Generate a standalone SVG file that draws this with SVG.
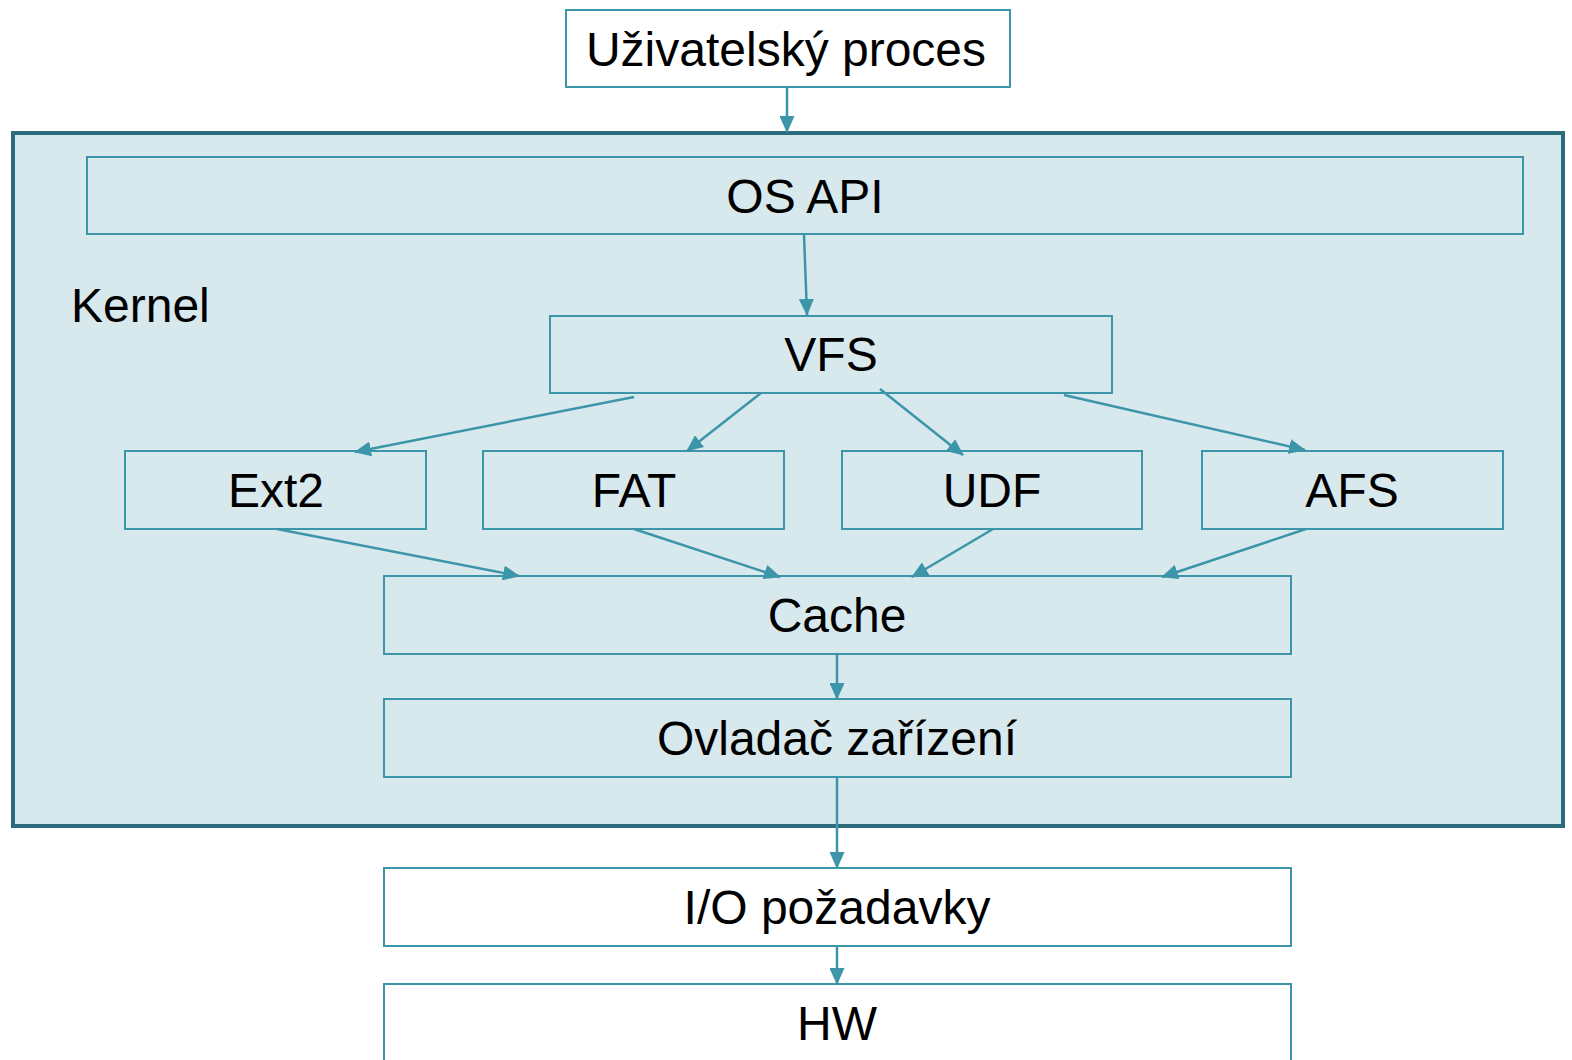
<svg xmlns="http://www.w3.org/2000/svg" width="1572" height="1060" viewBox="0 0 1572 1060">
<style>
.node{fill:#D8E9ED;stroke:#3C95A9;stroke-width:2}
.white{fill:#FFFFFF}
.lbl{font-family:"Liberation Sans",Arial,sans-serif;font-size:48px;fill:#000;text-anchor:middle}
.conn{stroke:#3C95A9;stroke-width:2.5;fill:none;marker-end:url(#arr)}
</style>
<defs>
<marker id="arr" markerUnits="userSpaceOnUse" markerWidth="17" markerHeight="15" refX="16" refY="7.5" orient="auto">
<path d="M0,0 L17,7.5 L0,15 Z" fill="#3C95A9"/>
</marker>
</defs>
<rect width="1572" height="1060" fill="#FFFFFF"/>
<g id="kernel">
<rect x="13" y="133" width="1550" height="693" fill="#D8E9ED" stroke="#2B6B7B" stroke-width="4"/>
<text x="71" y="322" class="lbl" style="text-anchor:start">Kernel</text>
</g>
<g id="user">
<rect x="566" y="10" width="444" height="77" class="node white"/>
<text x="786" y="66" class="lbl">Uživatelský proces</text>
</g>
<g id="osapi">
<rect x="87" y="157" width="1436" height="77" class="node"/>
<text x="805" y="213" class="lbl">OS API</text>
</g>
<g id="vfs">
<rect x="550" y="316" width="562" height="77" class="node"/>
<text x="831" y="371" class="lbl">VFS</text>
</g>
<g id="ext2">
<rect x="125" y="451" width="301" height="78" class="node"/>
<text x="276" y="507" class="lbl">Ext2</text>
</g>
<g id="fat">
<rect x="483" y="451" width="301" height="78" class="node"/>
<text x="634" y="507" class="lbl">FAT</text>
</g>
<g id="udf">
<rect x="842" y="451" width="300" height="78" class="node"/>
<text x="992" y="507" class="lbl">UDF</text>
</g>
<g id="afs">
<rect x="1202" y="451" width="301" height="78" class="node"/>
<text x="1352" y="507" class="lbl">AFS</text>
</g>
<g id="cache">
<rect x="384" y="576" width="907" height="78" class="node"/>
<text x="837" y="632" class="lbl">Cache</text>
</g>
<g id="ovladac">
<rect x="384" y="699" width="907" height="78" class="node"/>
<text x="837" y="755" class="lbl">Ovladač zařízení</text>
</g>
<g id="io">
<rect x="384" y="868" width="907" height="78" class="node white"/>
<text x="837" y="924" class="lbl">I/O požadavky</text>
</g>
<g id="hw">
<rect x="384" y="984" width="907" height="90" class="node white"/>
<text x="837" y="1040" class="lbl">HW</text>
</g>
<g id="connectors">
<line x1="787" y1="87" x2="787" y2="132" class="conn"/>
<line x1="804" y1="235" x2="807" y2="315" class="conn"/>
<line x1="634" y1="397" x2="355" y2="452" class="conn"/>
<line x1="761" y1="393" x2="687" y2="451" class="conn"/>
<line x1="880" y1="389" x2="963" y2="455" class="conn"/>
<line x1="1064" y1="395" x2="1305" y2="450" class="conn"/>
<line x1="277" y1="529" x2="519" y2="576" class="conn"/>
<line x1="634" y1="529" x2="780" y2="577" class="conn"/>
<line x1="993" y1="529" x2="912" y2="577" class="conn"/>
<line x1="1306" y1="529" x2="1162" y2="577" class="conn"/>
<line x1="837" y1="654" x2="837" y2="699" class="conn"/>
<line x1="837" y1="777" x2="837" y2="868" class="conn"/>
<line x1="837" y1="946" x2="837" y2="984" class="conn"/>
</g>
</svg>
